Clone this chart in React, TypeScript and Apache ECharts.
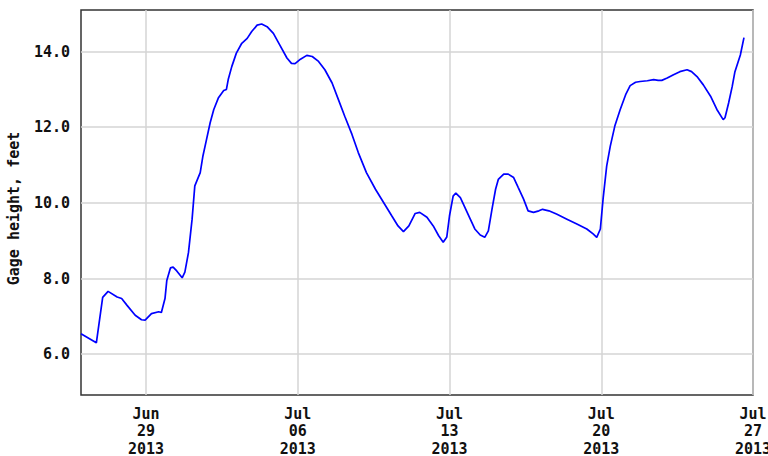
import React, { useEffect, useRef } from "react";
import * as echarts from "echarts";

// Hours since 2013-06-26 00:00 UTC
const hours = [0,17,24,30,40,45,51,60,67,71,78,86,89,93,95,99,102,106,112,115,119,123,126,132,135,139,143,147,152,158,161,163,167,172,178,184,189,195,200,206,213,220,228,233,237,243,250,256,263,270,278,285,292,300,307,316,326,335,344,351,357,363,370,375,383,390,396,401,405,408,412,415,420,425,431,436,442,447,451,455,459,462,468,473,479,484,490,495,501,507,511,518,527,538,549,560,567,571,575,578,582,586,591,597,603,608,614,619,627,634,639,643,649,656,663,671,676,682,689,697,704,711,713,717,721,724,730,734];
const gageFeet = [6.54,6.30,7.50,7.66,7.51,7.47,7.29,7.03,6.91,6.90,7.07,7.12,7.10,7.47,7.95,8.28,8.30,8.20,8.02,8.17,8.69,9.57,10.45,10.80,11.24,11.68,12.12,12.47,12.77,12.97,13.00,13.26,13.61,13.96,14.22,14.35,14.53,14.70,14.73,14.66,14.48,14.18,13.83,13.69,13.68,13.80,13.90,13.87,13.74,13.52,13.17,12.73,12.29,11.81,11.33,10.80,10.36,10.01,9.66,9.39,9.24,9.39,9.72,9.75,9.62,9.39,9.13,8.96,9.10,9.66,10.18,10.26,10.14,9.88,9.57,9.31,9.15,9.09,9.26,9.83,10.36,10.62,10.76,10.76,10.67,10.41,10.10,9.79,9.75,9.79,9.83,9.79,9.70,9.57,9.44,9.31,9.18,9.09,9.31,10.10,10.97,11.50,12.03,12.47,12.86,13.10,13.19,13.21,13.23,13.26,13.24,13.24,13.30,13.39,13.47,13.52,13.47,13.34,13.12,12.82,12.47,12.20,12.25,12.64,13.08,13.47,13.91,14.37];

const startUTC = Date.UTC(2013, 5, 26);
const xMinHours = 0;
const xMaxHours = 744;
const xTickHours = [72, 240, 408, 576, 744];
const yTicks = [6, 8, 10, 12, 14];
const yMin = 4.92;
const yMax = 15.1;
const monthNames = ["Jan","Feb","Mar","Apr","May","Jun","Jul","Aug","Sep","Oct","Nov","Dec"];

const FONT = "DejaVu Sans Mono";

export default function App() {
  const ref = useRef<HTMLDivElement>(null);
  useEffect(() => {
    const chart = echarts.init(ref.current!, null, { renderer: "svg" });
    const data = hours.map((h, i) => [h, gageFeet[i]]);
    chart.setOption({
      animation: false,
      backgroundColor: "#fff",
      grid: {
        left: 81, top: 10, right: 15, bottom: 61,
        containLabel: false,
        outerBoundsMode: "none",
        show: true, borderColor: "#333", borderWidth: 1.5, backgroundColor: "#fff",
      },
      xAxis: {
        type: "value",
        min: xMinHours,
        max: xMaxHours,
        axisLine: { show: false },
        axisTick: { show: false, customValues: xTickHours },
        splitLine: { show: true, lineStyle: { color: "#d4d4d4", width: 1.5 } },
        axisLabel: {
          customValues: xTickHours,
          margin: 10,
          fontFamily: FONT,
          fontWeight: "bold",
          fontSize: 15,
          lineHeight: 17.5,
          color: "#111",
          hideOverlap: false,
          formatter: (v: number) => {
            const d = new Date(startUTC + v * 3600000);
            const dd = String(d.getUTCDate()).padStart(2, "0");
            return monthNames[d.getUTCMonth()] + "\n" + dd + "\n" + d.getUTCFullYear();
          },
        },
      },
      yAxis: {
        type: "value",
        min: yMin,
        max: yMax,
        name: "Gage height, feet",
        nameLocation: "middle",
        nameGap: 60,
        nameTextStyle: { fontFamily: FONT, fontWeight: "bold", fontSize: 15, color: "#111", padding: [0, 12, 0, 0] },
        axisLine: { show: false },
        axisTick: { show: false, customValues: yTicks },
        splitLine: { show: true, lineStyle: { color: "#d4d4d4", width: 1.5 } },
        axisLabel: {
          customValues: yTicks,
          margin: 11,
          fontFamily: FONT,
          fontWeight: "bold",
          fontSize: 15,
          color: "#111",
          formatter: (v: number) => v.toFixed(1),
        },
      },
      series: [
        {
          type: "line",
          data,
          showSymbol: false,
          lineStyle: { color: "#0000ff", width: 1.7 },
          z: 3,
        },
      ],
    });
    return () => chart.dispose();
  }, []);
  return (
    <div
      ref={ref}
      style={{ position: "fixed", left: 0, top: 0, width: 768, height: 456 }}
    />
  );
}
